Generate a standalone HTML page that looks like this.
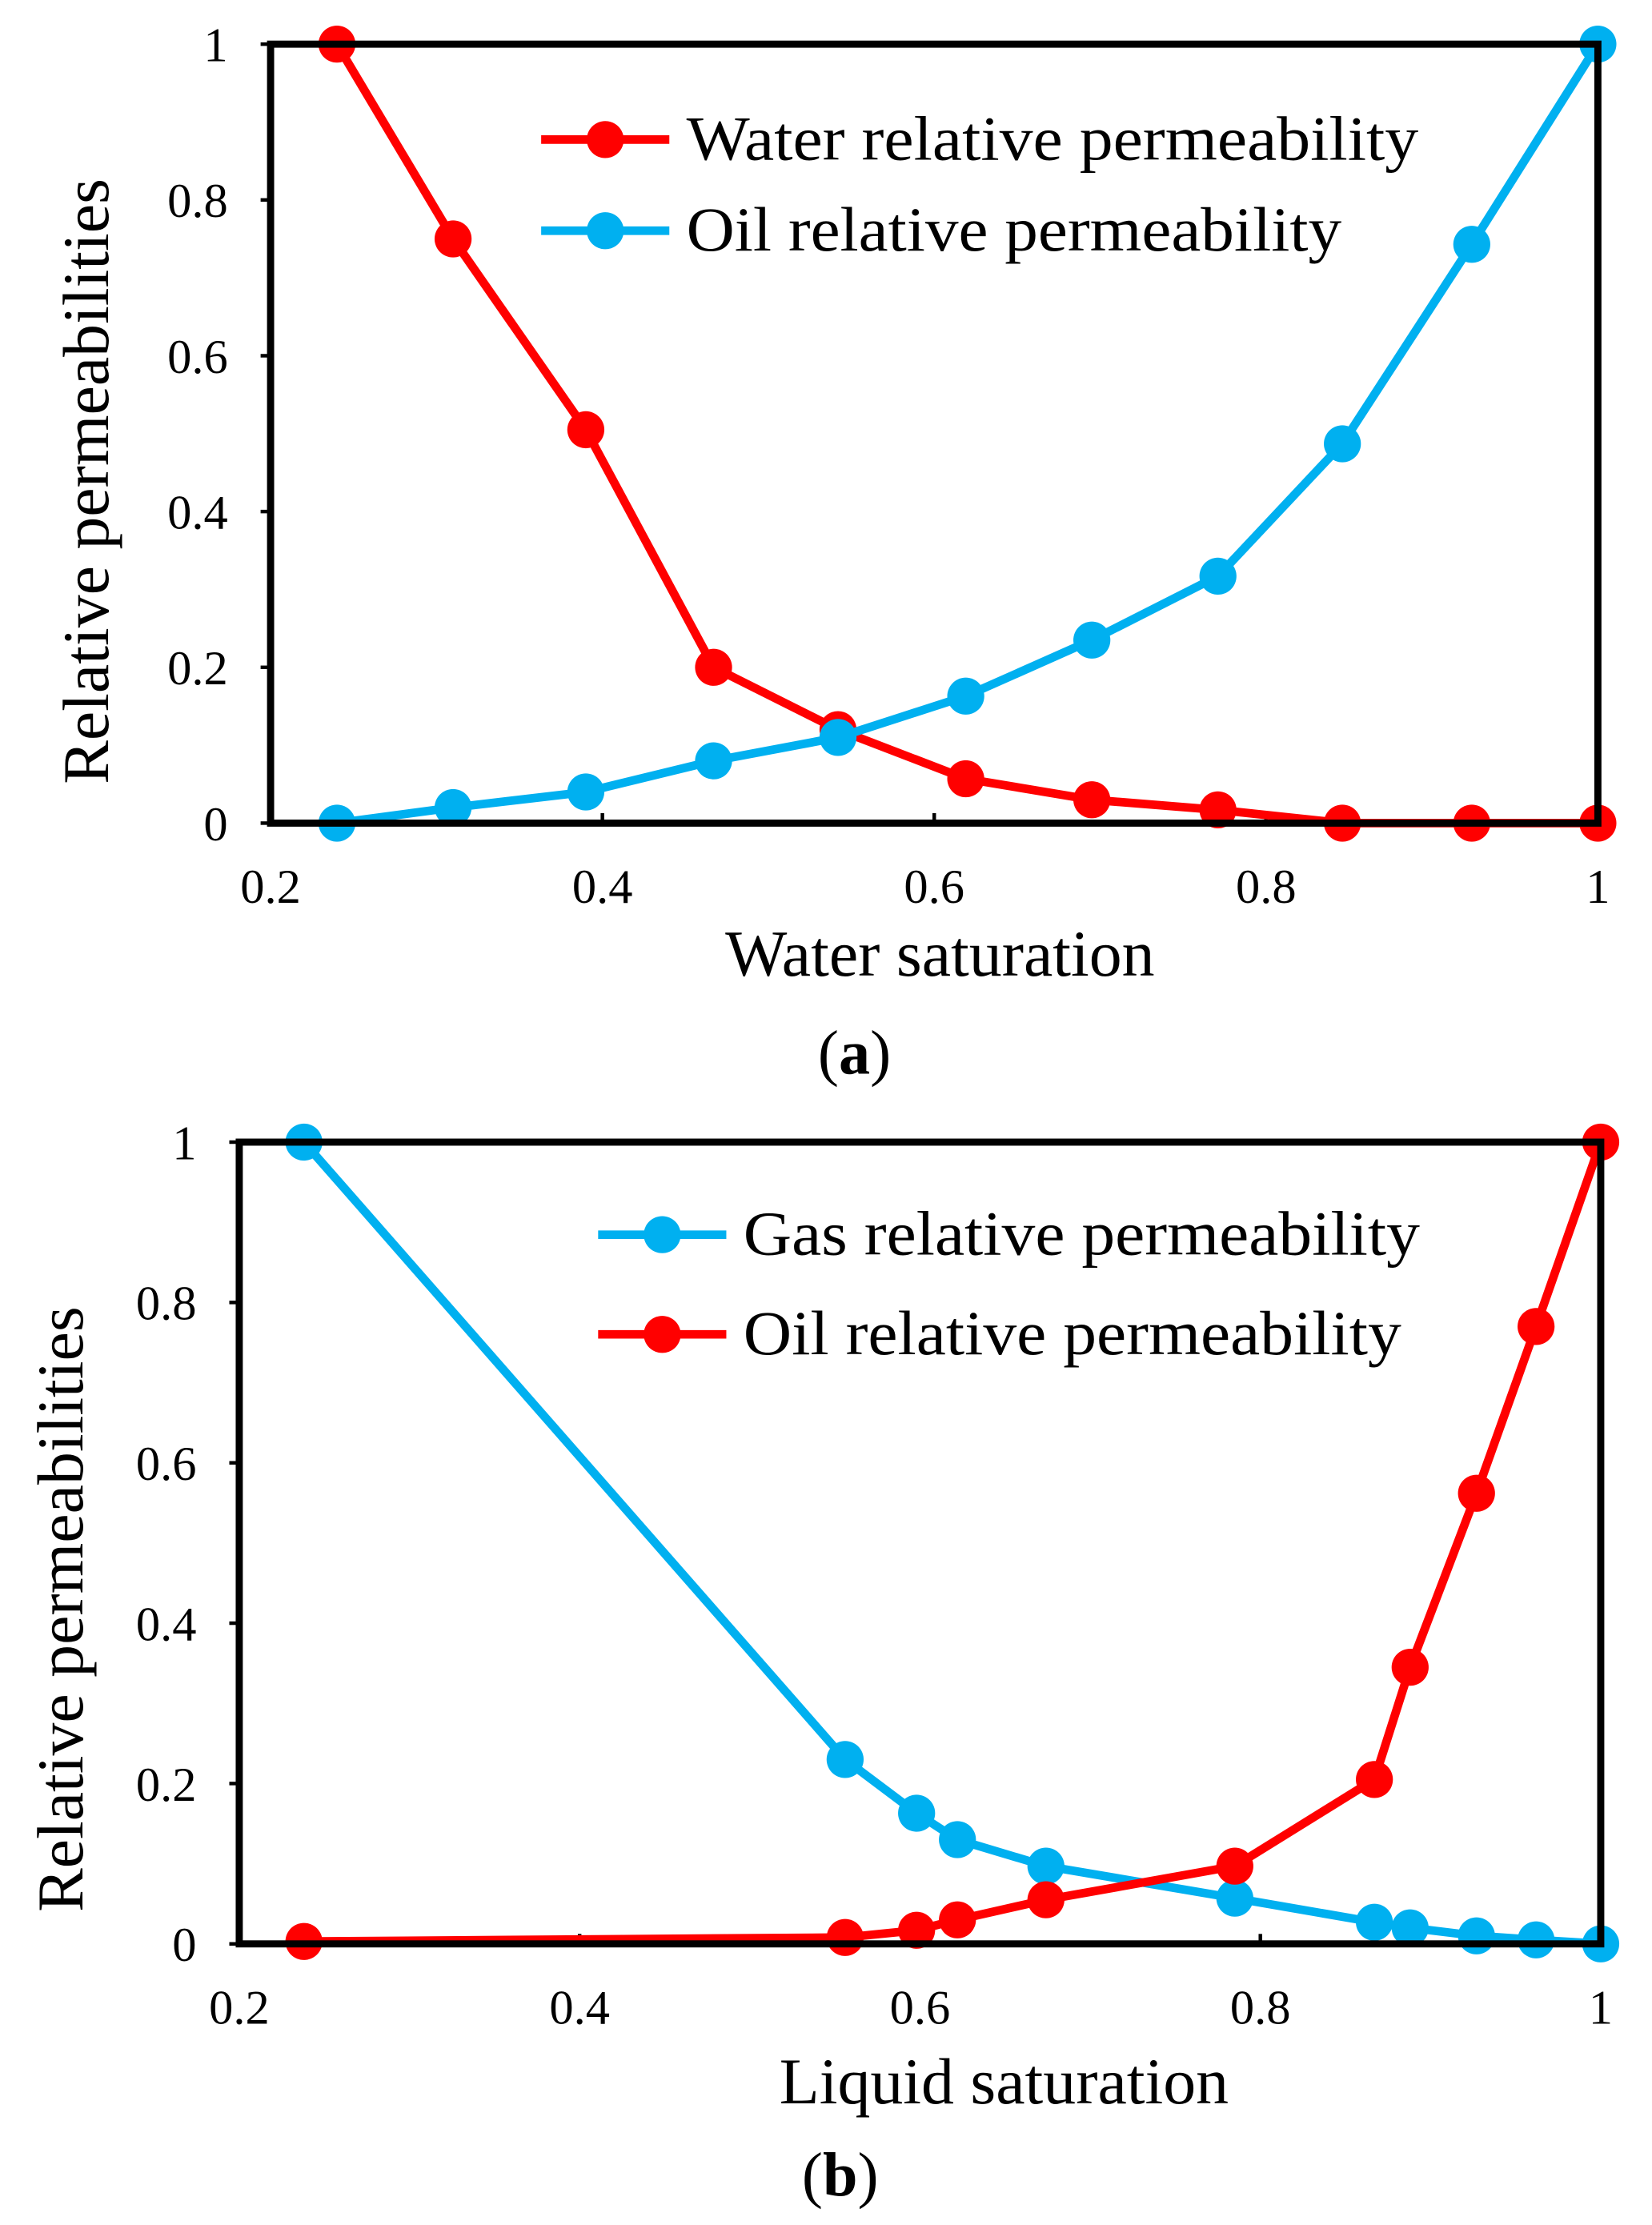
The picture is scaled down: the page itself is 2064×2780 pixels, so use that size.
<!DOCTYPE html>
<html><head><meta charset="utf-8"><style>
html,body{margin:0;padding:0;background:#fff;}
svg{display:block;}
text{font-family:"Liberation Serif",serif;fill:#000;}
</style></head><body>
<svg id="fig" width="2064" height="2780" viewBox="0 0 1160 1562.4" xmlns="http://www.w3.org/2000/svg"></svg>
<script>
// Chart (a)
const xA = [0.24,0.31,0.39,0.467,0.542,0.619,0.695,0.771,0.846,0.924,1];
const waterA = [1,0.75,0.505,0.2,0.12,0.057,0.03,0.017,0,0,0];
const oilA = [0,0.02,0.04,0.08,0.11,0.163,0.235,0.317,0.487,0.743,1];
// Chart (b)
const xB = [0.238,0.556,0.598,0.622,0.674,0.785,0.867,0.888,0.927,0.962,1];
const gasB = [1,0.23,0.163,0.13,0.097,0.057,0.027,0.02,0.01,0.005,0];
const oilB = [0.003,0.008,0.017,0.03,0.055,0.097,0.205,0.345,0.562,0.77,1];
const xTicks = [0.2,0.4,0.6,0.8,1];
const xTickLabels = ['0.2','0.4','0.6','0.8','1'];
const yTicks = [0,0.2,0.4,0.6,0.8,1];
const yTickLabels = ['0','0.2','0.4','0.6','0.8','1'];

const NS='http://www.w3.org/2000/svg';
const svg=document.getElementById('fig');
function mk(tag,attrs,parent){const e=document.createElementNS(NS,tag);for(const k in attrs)e.setAttribute(k,attrs[k]);(parent||svg).appendChild(e);return e;}
const RED='#ff0000', BLUE='#00b0f0';

function chart(cfg){
  const g=mk('g',{});
  
  
  const sx=v=>cfg.l+(v-0.2)/0.8*(cfg.r-cfg.l);
  const sy=v=>cfg.b-v*(cfg.b-cfg.t);
  xTicks.forEach((v,i)=>{
    const t=mk('line',{x1:sx(v),x2:sx(v),y1:cfg.b,y2:cfg.b-7,stroke:'#000','stroke-width':2.5},g);
    
    
    const lb=mk('text',{x:sx(v),y:cfg.b+56,'font-size':34,'text-anchor':'middle'},g);
    lb.textContent=xTickLabels[i];
    
    
  });
  yTicks.forEach((v,i)=>{
    const t=mk('line',{x1:cfg.l-7,x2:cfg.l,y1:sy(v),y2:sy(v),stroke:'#000','stroke-width':2.5},g);
    
    
    const lb=mk('text',{x:cfg.l-30,y:sy(v)+12,'font-size':34,'text-anchor':'end'},g);
    lb.textContent=yTickLabels[i];
    
    
  });
  cfg.series.forEach(s=>{
    const pts=cfg.x.map((xv,i)=>sx(xv)+','+sy(s.y[i])).join(' ');
    const pl=mk('polyline',{points:pts,fill:'none',stroke:s.color,'stroke-width':6,'stroke-linejoin':'round'},g);
    
    
    cfg.x.forEach((xv,i)=>{
      const c=mk('circle',{cx:sx(xv),cy:sy(s.y[i]),r:13,fill:s.color},g);
      
      
    });
  });
  const fr=mk('rect',{x:cfg.l,y:cfg.t,width:cfg.r-cfg.l,height:cfg.b-cfg.t,fill:'none',stroke:'#000','stroke-width':5},g);
  
  
  cfg.series.forEach((s,i)=>{
    const ly=cfg.legY+i*cfg.legDy;
    const ll=mk('line',{x1:cfg.legX,x2:cfg.legX+90,y1:ly,y2:ly,stroke:s.color,'stroke-width':6},g);
    
    
    const lc=mk('circle',{cx:cfg.legX+45,cy:ly,r:13,fill:s.color},g);
    
    
    const lt=mk('text',{x:cfg.legX+102,y:ly+14,'font-size':44,textLength:s.tl,lengthAdjust:'spacingAndGlyphs'},g);
    lt.textContent=s.label;
    
    
  });
  const xt=mk('text',{x:cfg.xtX,y:cfg.xtY,'font-size':46,'text-anchor':'middle'},g);
  xt.textContent=cfg.xTitle;
  
  
  const yt=mk('text',{x:0,y:0,'font-size':46,'text-anchor':'middle',transform:'translate('+cfg.ytX+','+cfg.ytY+') rotate(-90)'},g);
  yt.textContent='Relative permeabilities';
  
  
  const cap=mk('text',{x:cfg.capX,y:cfg.capY,'font-size':44,'text-anchor':'middle'},g);
  cap.innerHTML='(<tspan font-weight="bold">'+cfg.cap+'</tspan>)';
  
  
}

chart({name:'chart-a',l:190,r:1122,t:31,b:578,x:xA,
  series:[{name:'water',y:waterA,color:RED,label:'Water relative permeability',tl:514},
          {name:'oil',y:oilA,color:BLUE,label:'Oil relative permeability',tl:460}],
  legX:380,legY:98,legDy:64,xTitle:'Water saturation',xtX:660,xtY:685,ytX:76,ytY:338,capX:600,capY:754,cap:'a'});
chart({name:'chart-b',l:168,r:1124,t:802,b:1365,x:xB,
  series:[{name:'gas',y:gasB,color:BLUE,label:'Gas relative permeability',tl:475},
          {name:'oil',y:oilB,color:RED,label:'Oil relative permeability',tl:462}],
  legX:420,legY:867,legDy:70,xTitle:'Liquid saturation',xtX:705,xtY:1477,ytX:58,ytY:1130,capX:590,capY:1542,cap:'b'});
</script>
</body></html>
